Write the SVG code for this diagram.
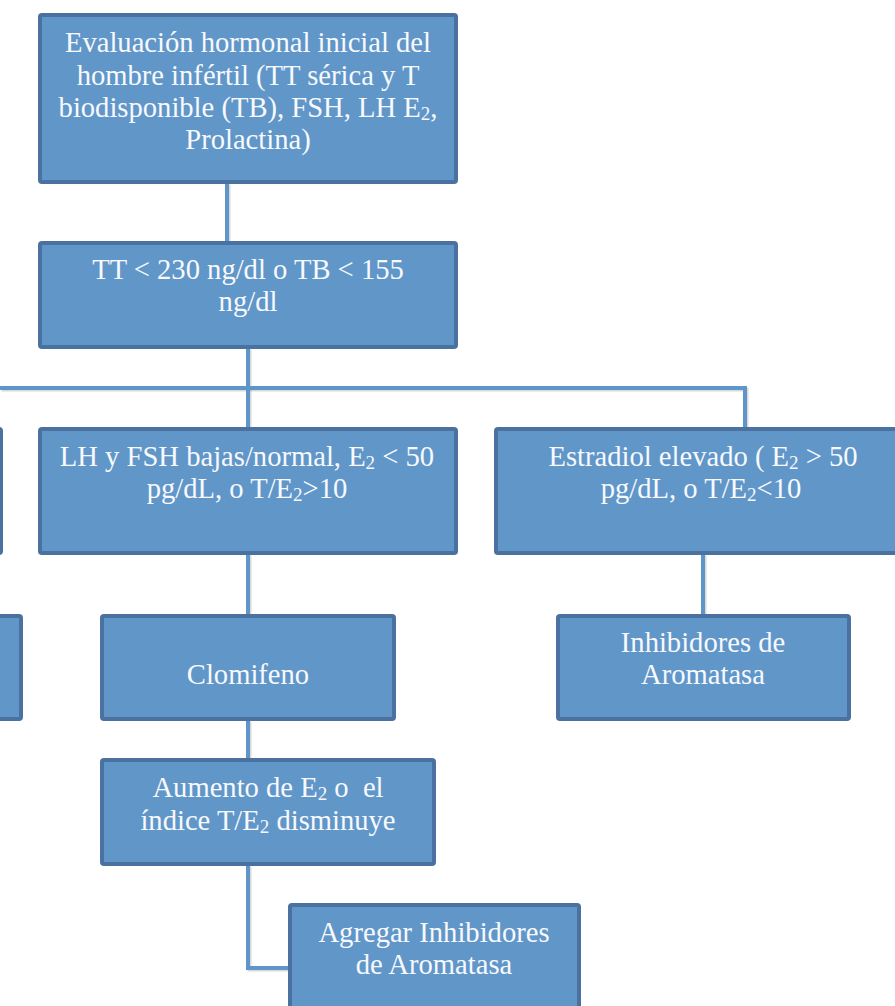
<svg xmlns="http://www.w3.org/2000/svg" width="895" height="1006" viewBox="0 0 895 1006">
<style>
.box{fill:#6196c9;stroke:#4a71a0;stroke-width:4}
.con{fill:none;stroke:#5f95c8;stroke-width:4;stroke-linejoin:miter}
.sh{fill:none;stroke:#000;stroke-opacity:0.15;stroke-width:4}
text{font-family:"Liberation Serif","DejaVu Serif",serif;font-size:28.6px;fill:#f7f9fc;text-anchor:middle;white-space:pre}
.s{font-size:19px}
</style>
<rect width="895" height="1006" fill="#ffffff"/>
<g id="connectors">
<g transform="translate(1.5,1.5)" class="sh">
<path d="M227 183 V243"/>
<path d="M248 348 V430"/>
<path d="M0 388 H745 V430"/>
<path d="M248 554 V615"/>
<path d="M703 554 V615"/>
<path d="M248 720 V760"/>
<path d="M248 865 V968 H289"/>
</g>
<path class="con" d="M227 183 V243"/>
<path class="con" d="M248 348 V430"/>
<path class="con" d="M0 388 H745 V430"/>
<path class="con" d="M248 554 V615"/>
<path class="con" d="M703 554 V615"/>
<path class="con" d="M248 720 V760"/>
<path class="con" d="M248 865 V968 H289"/>
</g>
<g id="n1">
<rect class="box" x="40" y="15" width="416" height="167" rx="2"/>
<text x="248" y="52">Evaluación hormonal inicial del</text>
<text x="248" y="85">hombre infértil (TT sérica y T</text>
<text x="248" y="117">biodisponible (TB), FSH, LH E<tspan class="s" dy="3">2</tspan><tspan dy="-3">,</tspan></text>
<text x="248" y="149">Prolactina)</text>
</g>
<g id="n2">
<rect class="box" x="40" y="243" width="416" height="104" rx="2"/>
<text x="248" y="279">TT &lt; 230 ng/dl o TB &lt; 155</text>
<text x="248" y="311">ng/dl</text>
</g>
<g id="n3left">
<rect class="box" x="-300" y="429" width="301" height="124" rx="2"/>
</g>
<g id="n3">
<rect class="box" x="40" y="429" width="416" height="124" rx="2"/>
<text x="247" y="466">LH y FSH bajas/normal, E<tspan class="s" dy="3">2</tspan><tspan dy="-3"> &lt; 50</tspan></text>
<text x="247" y="498">pg/dL, o T/E<tspan class="s" dy="3">2</tspan><tspan dy="-3">&gt;10</tspan></text>
</g>
<g id="n4">
<rect class="box" x="496" y="429" width="420" height="124" rx="2"/>
<text x="703" y="466">Estradiol elevado ( E<tspan class="s" dy="3">2</tspan><tspan dy="-3"> &gt; 50</tspan></text>
<text x="701" y="498">pg/dL, o T/E<tspan class="s" dy="3">2</tspan><tspan dy="-3">&lt;10</tspan></text>
</g>
<g id="n5left">
<rect class="box" x="-300" y="616" width="321" height="103" rx="2"/>
</g>
<g id="n5">
<rect class="box" x="102" y="616" width="292" height="103" rx="2"/>
<text x="248" y="684">Clomifeno</text>
</g>
<g id="n6">
<rect class="box" x="558" y="616" width="291" height="103" rx="2"/>
<text x="703" y="652">Inhibidores de</text>
<text x="703" y="684">Aromatasa</text>
</g>
<g id="n7">
<rect class="box" x="102" y="760" width="332" height="104" rx="2"/>
<text x="268" y="797">Aumento de E<tspan class="s" dy="3">2</tspan><tspan dy="-3"> o  el</tspan></text>
<text x="268" y="830">índice T/E<tspan class="s" dy="3">2</tspan><tspan dy="-3"> disminuye</tspan></text>
</g>
<g id="n8">
<rect class="box" x="290" y="905" width="289" height="130" rx="2"/>
<text x="434" y="942">Agregar Inhibidores</text>
<text x="434" y="974">de Aromatasa</text>
</g>
</svg>
